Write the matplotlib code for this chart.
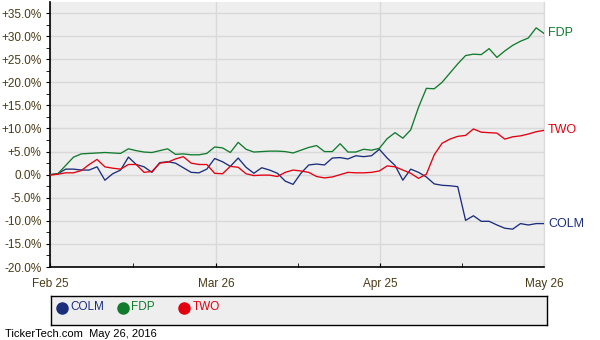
import numpy as np
import matplotlib
matplotlib.use('Agg')
import matplotlib.pyplot as plt
from matplotlib.ticker import MultipleLocator, FuncFormatter

plt.rcParams['font.family'] = ['Liberation Sans', 'DejaVu Sans']

# daily % change since Feb 25, 2016 (one value per trading day)
colm = [0.0, 0.2, 1.2, 1.2, 1.0, 1.0, 1.7, -1.2, 0.2, 1.0,
        3.8, 2.2, 1.7, 0.5, 2.6, 2.8, 2.5, 1.5, 0.5, 0.4,
        1.2, 3.5, 2.8, 1.8, 3.6, 1.6, 0.3, 1.5, 1.0, 0.3,
        -1.4, -2.1, 0.3, 2.1, 2.3, 2.1, 3.6, 3.7, 3.4, 4.1,
        3.9, 4.1, 5.5, 3.6, 2.0, -1.2, 1.2, 0.5, -0.5, -2.0,
        -2.3, -2.4, -2.6, -9.9, -8.9, -10.1, -10.1, -10.9, -11.6, -11.8,
        -10.6, -10.9, -10.6, -10.6]
fdp = [0.0, 0.2, 2.0, 3.8, 4.5, 4.6, 4.7, 4.8, 4.7, 4.6,
       5.6, 5.2, 4.9, 4.8, 5.2, 5.6, 4.4, 4.5, 4.3, 4.3,
       4.6, 6.0, 5.8, 4.8, 7.0, 5.5, 4.9, 5.0, 5.1, 5.1,
       5.0, 4.7, 5.3, 5.9, 6.3, 5.0, 5.0, 6.7, 4.9, 4.9,
       5.5, 5.3, 5.7, 7.8, 9.1, 7.9, 9.7, 14.6, 18.7, 18.6,
       20.0, 22.0, 24.0, 25.8, 26.1, 26.0, 27.3, 25.4, 26.8, 28.0,
       28.9, 29.6, 31.8, 30.6]
two = [-0.1, 0.1, 0.4, 0.4, 0.9, 2.2, 3.3, 1.7, 1.4, 1.2,
       2.2, 2.2, 0.5, 0.7, 2.5, 2.7, 3.4, 3.9, 2.5, 2.2,
       2.2, 0.3, 0.2, 1.8, 1.6, 0.2, -0.2, -0.1, -0.1, -0.4,
       0.5, 1.0, 0.8, 0.5, -0.4, -0.7, -0.5, 0.0, 0.5, 0.4,
       0.4, 0.5, 0.8, 1.9, 1.7, 1.0, 0.3, -0.8, 0.1, 4.3,
       6.8, 7.7, 8.3, 8.5, 9.9, 9.2, 9.1, 9.0, 7.7, 8.2,
       8.4, 8.8, 9.3, 9.6]

names = ['COLM', 'FDP', 'TWO']
colors = ['#1b2e7c', '#117b2d', '#e3000f']
date_labels = ['Feb 25', 'Mar 26', 'Apr 25', 'May 26']
date_pos = [0, 21.2, 42.1, 63]

series = [colm, fdp, two]
x = np.arange(len(colm))

fig = plt.figure(figsize=(6, 3.4), dpi=100)
ax = fig.add_axes([50/600, 1-267/340, 494/600, 265/340])
ax.set_facecolor('#eeeeee')

txtc = '#4a3b17'
for s, c, n in zip(series, colors, names):
    ax.plot(x, s, color=c, lw=0.95, zorder=3)
    ax.annotate(n, (x[-1], s[-1]), xytext=(3, 0), textcoords='offset points',
                color=c, fontsize=9, va='center', ha='left', annotation_clip=False)

ax.set_xlim(0, 63)
ax.set_ylim(-20, 37.4)
ax.yaxis.set_major_locator(MultipleLocator(5))
ax.yaxis.set_minor_locator(MultipleLocator(2.5))
ax.yaxis.set_major_formatter(FuncFormatter(
    lambda v, p: ('+' if v > 0 else '') + '%.1f%%' % v))
ax.set_xticks(date_pos)
ax.set_xticklabels(date_labels)
ax.set_xticks([(a + b) / 2 for a, b in zip(date_pos[:-1], date_pos[1:])], minor=True)

ax.grid(True, which='major', color='#d9d9d9', lw=1.0, zorder=0)
ax.set_axisbelow(True)

ax.tick_params(axis='y', which='both', direction='out', length=3, color='black',
               labelsize=8.5, labelcolor=txtc, pad=3)
ax.tick_params(axis='x', which='both', direction='in', length=3, color='black',
               labelsize=8.5, labelcolor=txtc, pad=8)

for sp in ['left', 'bottom']:
    ax.spines[sp].set_color('black')
    ax.spines[sp].set_linewidth(1.2)
ax.spines['top'].set_visible(False)
ax.spines['right'].set_color('#d9d9d9')

# legend box, drawn in pixel-like coordinates
lax = fig.add_axes([51/600, 1-325/340, 496/600, 29/340])
lax.set_facecolor('#eeeeee')
lax.set_xlim(51, 547)
lax.set_ylim(0, 29)
lax.set_xticks([])
lax.set_yticks([])
for sp in lax.spines.values():
    sp.set_color('black')
    sp.set_linewidth(1.0)
leg_x = [61.5, 122.5, 184]
for lx, c, n in zip(leg_x, colors, names):
    lax.plot(lx, 17.5, marker='o', ms=8, color=c, ls='')
    lax.text(lx + 9, 17.5, n, color=c, fontsize=8.5, va='center', ha='left')

fig.text(5/600, 1-334/340, 'TickerTech.com  May 26, 2016', fontsize=8,
         color='black', va='center', ha='left')

fig.savefig('out.png', dpi=100)
